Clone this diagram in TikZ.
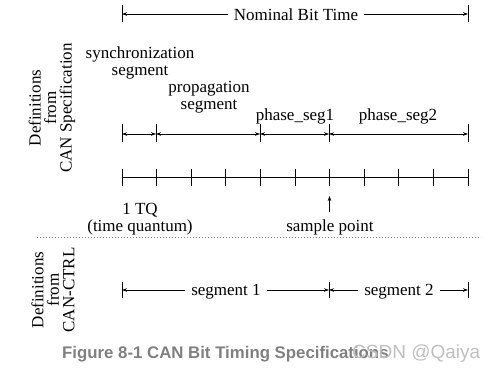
\documentclass[tikz,border=0pt]{standalone}
\usepackage{fontspec}
\setmainfont{Liberation Serif}
\newfontfamily\capfont{Liberation Sans}
\usetikzlibrary{arrows.meta}
\tikzset{
  lbl/.style={inner sep=0pt, font=\fontsize{17}{17}\selectfont},
  sidelbl/.style={inner sep=0pt, rotate=90, align=center, font=\fontsize{17}{15.5}\selectfont},
  dimline/.style={line width=0.7pt, {Stealth[length=5pt,width=3.5pt]}-{Stealth[length=5pt,width=3.5pt]}},
  halfl/.style={line width=0.7pt, -{Stealth[length=5pt,width=3.5pt]}},
  bar/.style={line width=0.7pt},
}
\begin{document}
\begin{tikzpicture}[x=1pt,y=-1pt]
\useasboundingbox (0,0) rectangle (499,372);
% Nominal bit time
\coordinate (nbl) at (122,14);
\coordinate (nbr) at (468,14);
\draw[bar] (122,5) -- (122,22);
\draw[bar] (468,5) -- (468,22);
\node[lbl] (nbt) at (296,15) {Nominal Bit Time};
\draw[halfl] (nbt.west) ++(-6,-1) coordinate (nbtw) -- (nbl);
\draw[halfl] (nbt.east) ++(6,-1) coordinate (nbte) -- (nbr);
% segment labels
\node[lbl, align=center] (sync) at (140,63) {synchronization\\segment};
\node[lbl, align=center] (prop) at (209,97) {propagation\\segment};
\node[lbl] (ps1) at (295,116) {phase\_seg1};
\node[lbl] (ps2) at (398,116) {phase\_seg2};
% segment row
\foreach \x/\n in {122/a,156/b,260/c,329/d,468/e}{
  \coordinate (s\n) at (\x,134);
  \draw[bar] (\x,124) -- (\x,142);
}
\draw[dimline] (sa) -- (sb);
\draw[dimline] (sb) -- (sc);
\draw[dimline] (sc) -- (sd);
\draw[dimline] (sd) -- (se);
% tick row
\coordinate (t0) at (122,177);
\coordinate (t10) at (468,177);
\draw[bar] (t0) -- (t10);
\foreach \i in {0,...,10}{
  \draw[bar] (122+34.6*\i,169) -- (122+34.6*\i,186);
}
% labels below
\node[lbl, align=center] (tq) at (140,219) {1 TQ\\(time quantum)};
\node[lbl] (sp) at (330,227) {sample point};
\coordinate (spt) at (329.5,212);
\coordinate (sph) at (329.5,196);
\draw[halfl] (spt) -- (sph);
% dotted separator
\coordinate (dl) at (37,237);
\coordinate (dr) at (481,237);
\draw[line width=0.6pt, gray, dash pattern=on 0.8pt off 2.2pt] (dl) -- (dr);
% side labels
\node[sidelbl] (def1) at (52,108) {Definitions\\from\\CAN Specification};
\node[sidelbl] (def2) at (53,290) {Definitions\\from\\CAN-CTRL};
% CAN-CTRL row
\foreach \x/\n in {122/a,329/b,468/c}{
  \coordinate (c\n) at (\x,290);
  \draw[bar] (\x,282) -- (\x,298);
}
\node[lbl] (seg1) at (226,292) {segment 1};
\node[lbl] (seg2) at (399,292) {segment 2};
\draw[halfl] (seg1.west) ++(-6,-2) -- (ca);
\draw[halfl] (seg1.east) ++(6,-2) -- (cb);
\draw[halfl] (seg2.west) ++(-6,-2) -- (cb);
\draw[halfl] (seg2.east) ++(6,-2) -- (cc);
% caption
\node[inner sep=0pt, anchor=base west, text=black!50, font=\capfont\bfseries\fontsize{16.8}{17}\selectfont] (cap) at (62,358) {Figure 8-1 CAN Bit Timing Specifications};
\node[inner sep=0pt, anchor=base west, text=black!25, font=\capfont\fontsize{19}{19}\selectfont] (wm) at (352,358) {CSDN @Qaiya};
\end{tikzpicture}
\end{document}
